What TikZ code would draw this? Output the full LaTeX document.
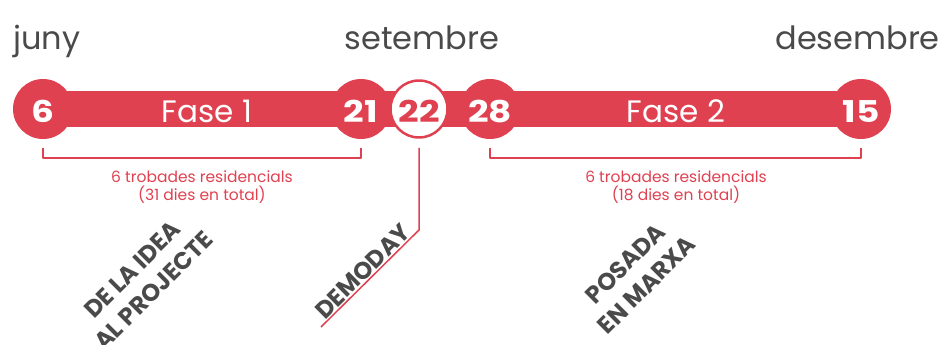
\documentclass[tikz,border=0pt]{standalone}
\usepackage{fontspec}
\setmainfont{Poppins}
\newfontfamily\xifra[FakeStretch=1.2, UprightFont=* Bold]{Poppins}
\definecolor{vermell}{HTML}{DF4150}
\definecolor{gris}{HTML}{4A4A4A}
\begin{document}
\begin{tikzpicture}[x=1pt, y=-1pt, line join=round, line cap=round,
	dia/.style={circle, fill=vermell, minimum size=60pt, inner sep=0pt, text=white,
		text height=26pt, text depth=0pt, font=\fontsize{30}{30}\xifra},
	mes/.style={anchor=base, text=gris, inner sep=0pt, font=\fontsize{32}{32}\selectfont},
	fase/.style={anchor=base, text=white, inner sep=0pt, font=\fontsize{31}{31}\selectfont},
	clau/.style={draw=vermell, line width=1.5pt, line cap=butt},
	nota/.style={text=vermell, align=center, font=\fontsize{15.5}{18.5}\selectfont},
	etapa/.style={text=gris, align=center, rotate=45, font=\fontsize{24}{30}\selectfont\bfseries}]
\useasboundingbox (0,0) rectangle (943,345);
% mesos
\node[mes, anchor=base west] (juny) at (13,50) {juny};
\node[mes] (setembre) at (422,50) {setembre};
\node[mes, anchor=base east] (desembre) at (940,50) {desembre};
% barra
\fill[vermell] (43,91) rectangle (861,127);
\path
	(43,109) node[dia] (d6) {6}
	(361,109) node[dia] (d21) {21}
	(419,109) node[dia, fill=white, draw=vermell, line width=2.5pt, text=vermell, minimum size=57pt] (d22) {22}
	(490,109) node[dia] (d28) {28}
	(861,109) node[dia] (d15) {15};
\node[fase] (fase1) at (207,122) {Fase 1};
\node[fase] (fase2) at (676,122) {Fase 2};
% trobades
\draw[clau] ([yshift=-9pt]d6.south) -- ([yshift=-19pt]d6.south) -- ([yshift=-19pt]d21.south) -- ([yshift=-9pt]d21.south);
\draw[clau] ([yshift=-9pt]d28.south) -- ([yshift=-19pt]d28.south) -- ([yshift=-19pt]d15.south) -- ([yshift=-9pt]d15.south);
\node[nota] (nota1) at (202,187) {6 trobades residencials\\(31 dies en total)};
\node[nota] (nota2) at (676,187) {6 trobades residencials\\(18 dies en total)};
% demoday
\coordinate (colze) at (419,230);
\coordinate (peu) at (321,327);
\draw[clau, line join=miter] ([yshift=-9pt]d22.south) -- (colze) -- (peu);
\path (peu) -- (colze) node[etapa, midway, sloped, above, rotate=-45, inner sep=1.5pt] (demoday) {DEMODAY};
% etapes
\node[etapa] (idea) at (143,280) {DE LA IDEA\\AL PROJECTE};
\node[etapa] (posada) at (636,274) {POSADA\\EN MARXA};
\end{tikzpicture}
\end{document}
